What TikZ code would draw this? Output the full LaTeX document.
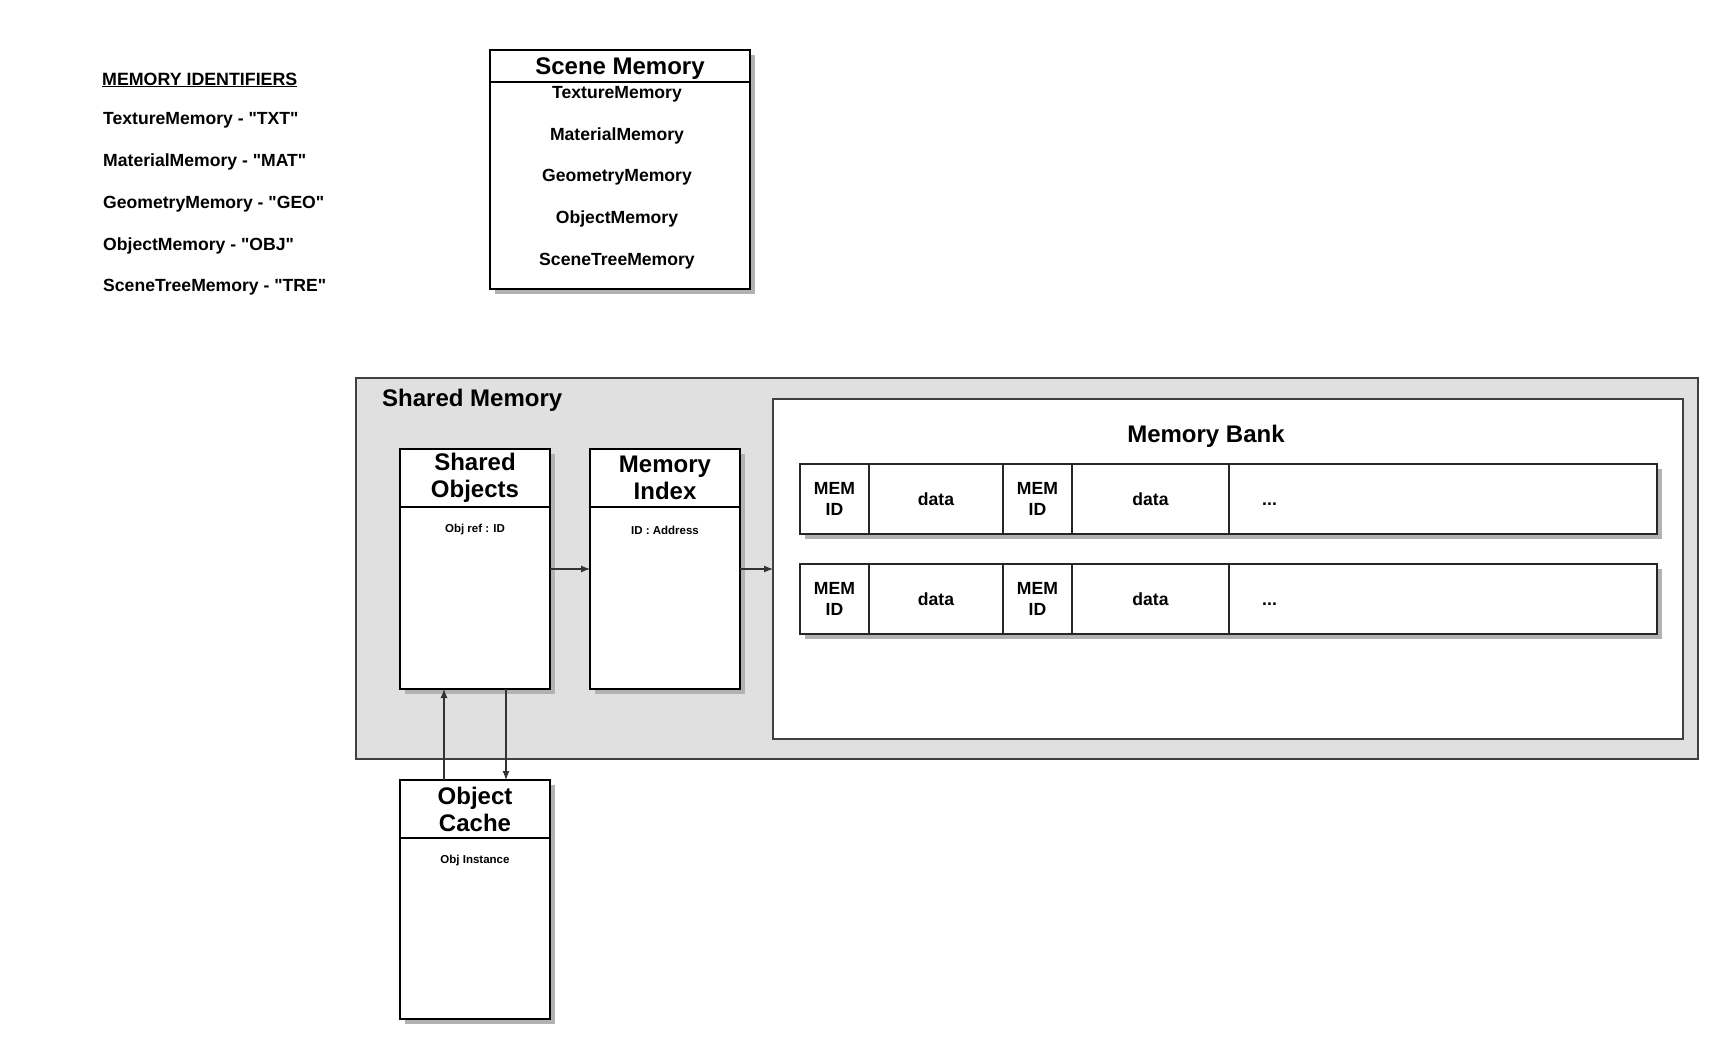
\documentclass[tikz,border=0pt]{standalone}
\usepackage{fontspec}
\setmainfont{Liberation Sans}[Ligatures=TeXOff]
\usetikzlibrary{positioning, shadows, arrows.meta}
\definecolor{lanegray}{HTML}{E0E0E0}
\definecolor{framegray}{HTML}{404040}
\tikzset{
    lanebox/.style={
        rectangle,
        draw=black,
        fill=white,
        line width=2pt, % thick border
        inner sep=0,
        outer sep=0,
        drop shadow={shadow xshift=5pt, shadow yshift=-5pt, fill=black!30, opacity=1}
    },
    groupbox/.style={
        rectangle,
        draw=framegray,
        line width=2pt,
        inner sep=0,
        outer sep=0
    },
    headbox/.style={
        rectangle,
        draw=black,
        line width=2pt,
        inner sep=0,
        outer sep=0,
        align=center,
        font=\bfseries\fontsize{24}{27}\selectfont
    },
    cellnode/.style={
        rectangle,
        draw=black!85,
        fill=white,
        line width=2pt,
        minimum height=70,
        inner sep=0,
        outer sep=0,
        align=center,
        font=\bfseries\fontsize{17.6}{21}\selectfont
    },
    itemtext/.style={
        inner sep=0,
        font=\bfseries\fontsize{17.6}{21}\selectfont
    },
    smalltext/.style={
        inner sep=0,
        font=\bfseries\fontsize{11.5}{14}\selectfont
    },
    titletext/.style={
        inner sep=0,
        font=\bfseries\fontsize{24}{27}\selectfont
    },
    link/.style={
        draw=black!80,
        line width=1.1pt,
        -{Latex[length=9pt, width=7pt]}
    }
}

\begin{document}
\begin{tikzpicture}[x=1pt, y=-1pt]
    \useasboundingbox (0,0) rectangle (1718,1040);
    % identifier list
    \node[itemtext, anchor=west, font=\bfseries\fontsize{17.8}{21}\selectfont] (idhead) at (102,80) {\underline{MEMORY IDENTIFIERS}};
    \foreach \name/\code [count=\i] in {Texture/TXT, Material/MAT, Geometry/GEO, Object/OBJ, SceneTree/TRE}
        \node[itemtext, anchor=west] (id\i) at (103, 78.8+41.7*\i) {\name Memory - "\code"};

    % scene memory
    \node[lanebox, minimum width=260, minimum height=239] (scene) at (620,169.5) {};
    \node[headbox, minimum width=260, minimum height=32, anchor=north, text height=17pt, text depth=0pt] (scenehead) at (scene.north) {Scene Memory};
    \foreach \name [count=\i] in {Texture, Material, Geometry, Object, SceneTree}
        \node[itemtext] (scene\i) at (617, 52.3+41.7*\i) {\name Memory};

    % shared memory
    \node[groupbox, fill=lanegray, minimum width=1342, minimum height=381] (shared) at (1027,568.5) {};
    \node[titletext, anchor=west] (sharedtitle) at (382,400) {Shared Memory};
    \node[groupbox, fill=white, minimum width=910, minimum height=340] (bank) at (1228,569) {};
    \node[titletext] (banktitle) at (1206,436) {Memory Bank};

    \node[lanebox, minimum width=150, minimum height=240] (sobj) at (475,569) {};
    \node[headbox, minimum width=150, minimum height=58, anchor=north] (sobjhead) at (sobj.north) {Shared\\Objects};
    \node[smalltext] (sobjtext) at ([yshift=-23pt]sobjhead.south) {Obj ref : ID};

    \node[lanebox, minimum width=150, minimum height=240] (midx) at (665,569) {};
    \node[headbox, minimum width=150, minimum height=58, anchor=north] (midxhead) at (midx.north) {Memory\\Index};
    \node[smalltext] (midxtext) at ([yshift=-23pt]midxhead.south) {ID : Address};

    \node[lanebox, minimum width=150, minimum height=239] (ocache) at (475,899.5) {};
    \node[headbox, minimum width=150, minimum height=58, anchor=north] (ocachehead) at (ocache.north) {Object\\Cache};
    \node[smalltext] (ocachetext) at ([yshift=-23pt]ocachehead.south) {Obj Instance};

    % memory rows
    \foreach \r/\y in {1/499, 2/599} {
        \node[lanebox, minimum width=857, minimum height=70, anchor=west] (row\r) at (800,\y) {};
        \node[cellnode, minimum width=69, anchor=west] (mema\r) at (800,\y) {MEM\\ID};
        \node[cellnode, minimum width=134, right=0pt of mema\r] (dataa\r) {data};
        \node[cellnode, minimum width=69, right=0pt of dataa\r] (memb\r) {MEM\\ID};
        \node[cellnode, minimum width=157, right=0pt of memb\r] (datab\r) {data};
        \node[cellnode, minimum width=428, right=0pt of datab\r] (rest\r) {};
        \node[itemtext, anchor=base west] (dots\r) at ([xshift=33pt, yshift=-6pt]rest\r.west) {...};
    }

    \draw[link] (sobj.east) -- (midx.west);
    \draw[link] (midx.east) -- (bank.west);
    \draw[link] ([xshift=-31pt]ocache.north) -- ([xshift=-31pt]sobj.south);
    \draw[link] ([xshift=31pt]sobj.south) -- ([xshift=31pt]ocache.north);
\end{tikzpicture}
\end{document}
